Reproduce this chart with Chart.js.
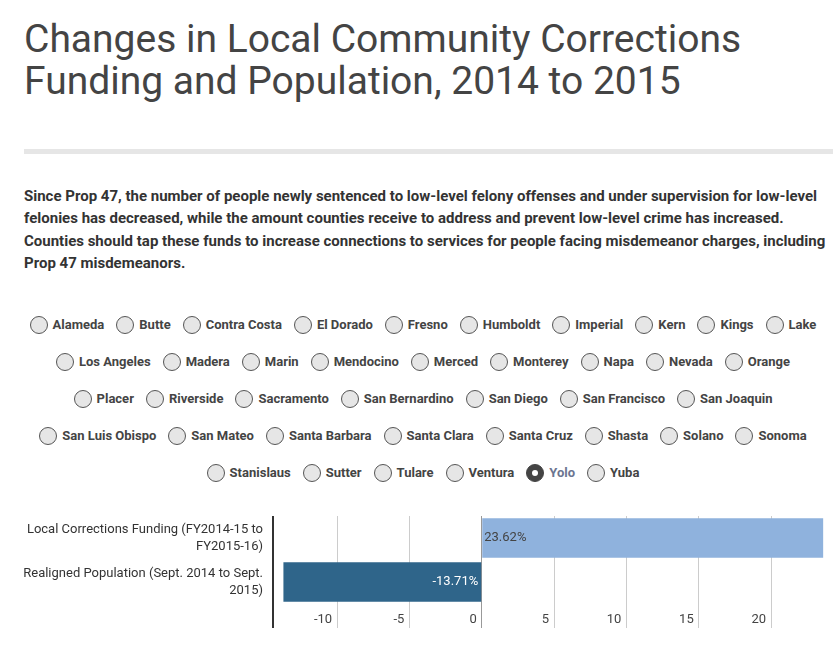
<!DOCTYPE html>
<html>
<head>
<meta charset="utf-8">
<script src="https://cdn.jsdelivr.net/npm/chart.js@4.4.0/dist/chart.umd.min.js"></script>
<style>
  body { margin: 0; background: #fff; font-family: Roboto, sans-serif; width: 840px; height: 654px; overflow: hidden; position: relative; }
  h1 { position: absolute; left: 24px; top: 18px; margin: 0; font-weight: 400; font-size: 39px; line-height: 42px; color: #444; }
  .rule { position: absolute; left: 24px; top: 149px; width: 809px; height: 5px; background: #e6e6e6; }
  .intro { position: absolute; left: 24px; top: 185px; margin: 0; font-weight: 700; font-size: 15px; line-height: 22.3px; color: #333; white-space: nowrap; }
  #counties { position: absolute; left: 24px; top: 306px; width: 798px; }
  .row { display: flex; justify-content: center; align-items: center; height: 37px; column-gap: 12px; }
  .opt { display: flex; align-items: center; font-size: 13px; font-weight: 700; color: #444; white-space: nowrap; }
  .dot { width: 16px; height: 16px; border: 1.5px solid #555; border-radius: 50%; background: #e6e6e6; margin-right: 5px; position: relative; }
  .opt.on { color: #6b7590; }
  .opt.on .dot { background: #444; border-color: #444; }
  .opt.on .dot::after { content: ''; position: absolute; left: 5px; top: 5px; width: 6px; height: 6px; border-radius: 50%; background: #fff; }
  #wrap { position: absolute; left: 0; top: 500px; width: 840px; height: 154px; }
</style>
</head>
<body>
<h1>Changes in Local Community Corrections<br>Funding and Population, 2014 to 2015</h1>
<div class="rule"></div>
<p class="intro">Since Prop 47, the number of people newly sentenced to low-level felony offenses and under supervision for low-level<br>felonies has decreased, while the amount counties receive to address and prevent low-level crime has increased.<br>Counties should tap these funds to increase connections to services for people facing misdemeanor charges, including<br>Prop 47 misdemeanors.</p>
<div id="counties"></div>
<div id="wrap"><canvas id="chart"></canvas></div>
<script>
// county picker rows, as laid out in the original
const countyRows = [
  ['Alameda', 'Butte', 'Contra Costa', 'El Dorado', 'Fresno', 'Humboldt', 'Imperial', 'Kern', 'Kings', 'Lake'],
  ['Los Angeles', 'Madera', 'Marin', 'Mendocino', 'Merced', 'Monterey', 'Napa', 'Nevada', 'Orange'],
  ['Placer', 'Riverside', 'Sacramento', 'San Bernardino', 'San Diego', 'San Francisco', 'San Joaquin'],
  ['San Luis Obispo', 'San Mateo', 'Santa Barbara', 'Santa Clara', 'Santa Cruz', 'Shasta', 'Solano', 'Sonoma'],
  ['Stanislaus', 'Sutter', 'Tulare', 'Ventura', 'Yolo', 'Yuba'],
];
const selectedCounty = 'Yolo';

// chart data (Yolo)
const categories = [
  ['Local Corrections Funding (FY2014-15 to', 'FY2015-16)'],
  ['Realigned Population (Sept. 2014 to Sept.', '2015)'],
];
const changePct = [23.62, -13.71];
const xTickValues = [-10, -5, 0, 5, 10, 15, 20];
const xMin = -14.43;
const xMax = 23.62;

const barColors = ['#8fb2dd', '#2f658a'];

const box = document.getElementById('counties');
countyRows.forEach((names) => {
  const row = document.createElement('div');
  row.className = 'row';
  names.forEach((n) => {
    const opt = document.createElement('span');
    opt.className = 'opt' + (n === selectedCounty ? ' on' : '');
    opt.innerHTML = '<span class="dot"></span>' + n;
    row.appendChild(opt);
  });
  box.appendChild(row);
});

// percent labels drawn on the bars
const valueLabels = {
  id: 'valueLabels',
  afterDatasetsDraw(chart) {
    const ctx = chart.ctx;
    ctx.save();
    ctx.font = '13px Roboto';
    ctx.textBaseline = 'middle';
    chart.getDatasetMeta(0).data.forEach((bar, i) => {
      const v = changePct[i];
      const txt = v.toFixed(2) + '%';
      if (v >= 0) {
        ctx.textAlign = 'left';
        ctx.fillStyle = '#444';
        ctx.fillText(txt, bar.base + 2, bar.y);
      } else {
        ctx.textAlign = 'right';
        ctx.fillStyle = '#fff';
        ctx.fillText(txt, bar.base - 3, bar.y);
      }
    });
    ctx.restore();
  },
};

const isMin = (c) => c.tick && c.tick.value === xMin;

new Chart(document.getElementById('chart'), {
  type: 'bar',
  data: {
    labels: categories,
    datasets: [{
      data: changePct,
      backgroundColor: barColors,
      borderWidth: 0,
      barPercentage: 0.9,
      categoryPercentage: 1,
    }],
  },
  options: {
    indexAxis: 'y',
    responsive: true,
    maintainAspectRatio: false,
    animation: false,
    layout: { padding: { top: 16, right: 16.6, bottom: 0, left: 0 } },
    plugins: { legend: { display: false }, tooltip: { enabled: false } },
    scales: {
      x: {
        min: xMin,
        max: xMax,
        afterBuildTicks: (s) => { s.ticks = [xMin].concat(xTickValues).map((v) => ({ value: v })); },
        afterFit: (s) => { s.height = 50; s.paddingLeft = 0; s.paddingRight = 0; },
        border: { display: false },
        grid: {
          color: (c) => (isMin(c) ? '#333' : c.tick && c.tick.value === 0 ? '#999' : '#ccc'),
          lineWidth: (c) => (isMin(c) ? 2 : 1),
          tickLength: 24,
        },
        ticks: {
          autoSkip: false,
          maxRotation: 0,
          align: 'end',
          labelOffset: -5,
          padding: -16,
          color: '#444',
          font: { family: 'Roboto', size: 13 },
          callback: (v) => (v === xMin ? '' : v),
        },
      },
      y: {
        afterFit: (s) => { s.width = 273; s.paddingTop = 0; s.paddingBottom = 0; },
        border: { display: false },
        grid: { display: false, drawTicks: false },
        ticks: {
          padding: 10,
          color: '#333',
          font: { family: 'Roboto', size: 13, lineHeight: 1.3 },
        },
      },
    },
  },
  plugins: [valueLabels],
});
</script>
</body>
</html>
